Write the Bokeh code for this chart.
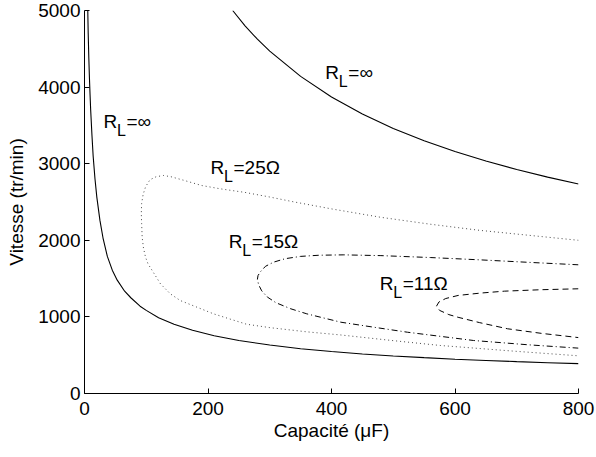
from bokeh.plotting import figure
from bokeh.models import Range1d, Label, FixedTicker
from bokeh.embed import file_html
from bokeh.resources import INLINE

# ---- data ----
x_ticks = [0, 200, 400, 600, 800]
y_ticks = [0, 1000, 2000, 3000, 4000, 5000]

# R_L = infinity, lower branch
c_inf_low = [5.3, 6, 7, 8, 9, 10, 12, 14, 17, 20, 25, 30, 37, 45, 53, 65, 75, 90, 100,
             120, 145, 175, 210, 250, 300, 350, 400, 450, 500, 550, 600, 650, 700, 750, 800]
v_inf_low = [5000, 4700, 4380, 4120, 3900, 3700, 3380, 3100, 2800, 2560, 2260, 2030, 1790,
             1610, 1480, 1335, 1250, 1140, 1085, 990, 905, 825, 755, 692, 633, 585, 548,
             516, 490, 468, 448, 431, 416, 402, 390]

# R_L = infinity, upper branch
c_inf_up = [240, 260, 280, 300, 350, 400, 450, 500, 550, 600, 650, 700, 750, 800]
v_inf_up = [5000, 4800, 4625, 4470, 4140, 3870, 3650, 3460, 3300, 3160, 3035, 2925, 2825, 2735]

# R_L = 25 ohm (closed loop, upper branch from right, nose, lower branch back to right)
c_25 = [800, 720, 640, 560, 480, 400, 340, 300, 260, 220, 190, 160, 140, 128, 116, 106, 99,
        95, 92.5, 92, 92.5, 93.4, 95.5, 98.8, 103, 109.6, 123, 139, 155, 182, 209, 262,
        300, 360, 414, 500, 576, 700, 800]
v_25 = [2000, 2065, 2130, 2210, 2300, 2410, 2500, 2565, 2625, 2672, 2715, 2785, 2830, 2846,
        2830, 2790, 2700, 2600, 2480, 2350, 2220, 2040, 1900, 1780, 1690, 1606, 1432, 1301,
        1214, 1127, 1040, 905, 860, 805, 765, 690, 627, 550, 492]

# R_L = 15 ohm
c_15 = [800, 720, 640, 560, 480, 420, 380, 350, 325, 306, 293, 285, 281, 280, 282, 287,
        296, 310, 334, 360, 415, 468, 523, 630, 720, 800]
v_15 = [1680, 1712, 1745, 1775, 1800, 1810, 1805, 1790, 1760, 1714, 1660, 1590, 1540,
        1490, 1420, 1340, 1260, 1185, 1106, 1040, 931, 866, 800, 692, 635, 592]

# R_L = 11 ohm
c_11 = [800, 740, 680, 640, 605, 585, 574, 570, 575, 590, 605, 640, 685, 740, 800]
v_11 = [1367, 1355, 1336, 1310, 1280, 1240, 1195, 1140, 1085, 1030, 995, 925, 845, 785, 730]

# curve labels: anchor (capacity, speed) and the text after the subscript
label_x = [30.8, 390, 204, 233.7, 478]
label_y = [3460, 4099, 2859, 1889, 1345]
label_rest = ["=∞", "=∞", "=25Ω", "=15Ω", "=11Ω"]

FONT = "Liberation Sans"

p = figure(width=596, height=457, output_backend="svg", toolbar_location=None,
           x_range=Range1d(0, 800), y_range=Range1d(0, 5000),
           min_border_left=84, min_border_right=18, min_border_top=10,
           min_border_bottom=64)

p.background_fill_color = "white"
p.border_fill_color = "white"
p.outline_line_color = None
p.xgrid.visible = False
p.ygrid.visible = False

for ax in (p.xaxis, p.yaxis):
    ax.major_tick_in = 5
    ax.major_tick_out = 0
    ax.minor_tick_line_color = None
    ax.axis_line_color = "black"
    ax.major_tick_line_color = "black"
    ax.major_label_text_font = FONT
    ax.major_label_text_font_size = "19px"
    ax.major_label_text_color = "black"
    ax.axis_label_text_font = FONT
    ax.axis_label_text_font_size = "19px"
    ax.axis_label_text_font_style = "normal"
    ax.axis_label_text_color = "black"

p.xaxis.ticker = FixedTicker(ticks=x_ticks)
p.yaxis.ticker = FixedTicker(ticks=y_ticks)
p.xaxis.major_label_standoff = 8
p.yaxis.major_label_standoff = 4
p.xaxis.axis_label = "Capacité (μF)"
p.yaxis.axis_label = "Vitesse (tr/min)"
p.xaxis.axis_label_standoff = 2
p.yaxis.axis_label_standoff = 8

p.line(c_inf_low, v_inf_low, line_color="black", line_width=1.1)
p.line(c_inf_up, v_inf_up, line_color="black", line_width=1.1)
p.line(c_25, v_25, line_color="#333333", line_width=0.9, line_dash="1 3")
p.line(c_15, v_15, line_color="black", line_width=1.0, line_dash="6 3 1 3")
p.line(c_11, v_11, line_color="black", line_width=1.0, line_dash="6 4")

for lx, ly, rest in zip(label_x, label_y, label_rest):
    p.add_layout(Label(x=lx, y=ly, text="R", y_offset=7, text_font=FONT,
                       text_font_size="19px", text_baseline="alphabetic",
                       text_align="left", text_color="black"))
    p.add_layout(Label(x=lx, y=ly, text="L", x_offset=13.5, y_offset=-2, text_font=FONT,
                       text_font_size="16px", text_baseline="alphabetic",
                       text_align="left", text_color="black"))
    p.add_layout(Label(x=lx, y=ly, text=rest, x_offset=23, y_offset=7, text_font=FONT,
                       text_font_size="19px", text_baseline="alphabetic",
                       text_align="left", text_color="black"))

open("out.html", "w").write(file_html(p, INLINE))
